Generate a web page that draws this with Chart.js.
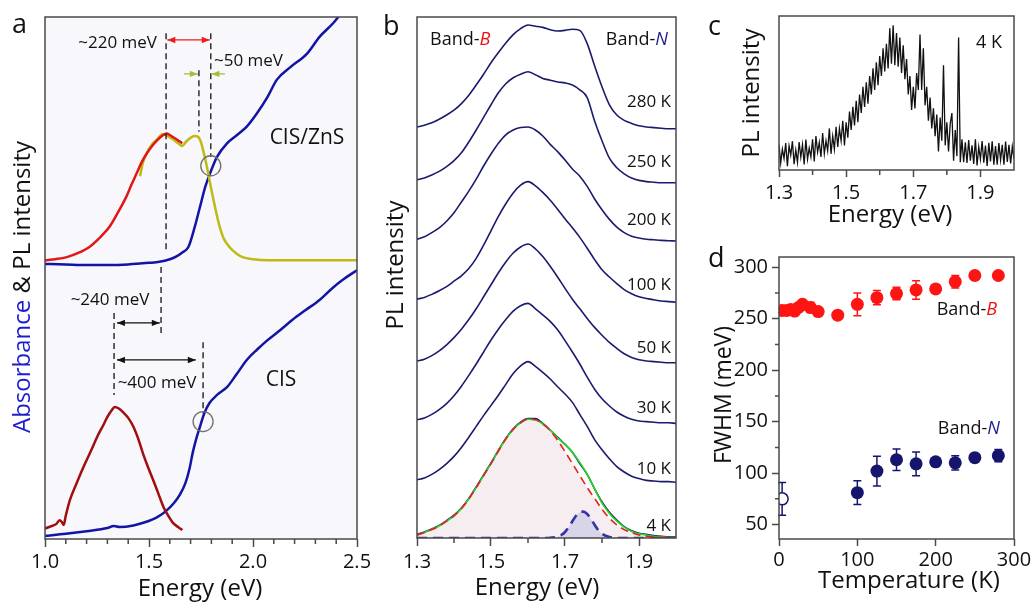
<!DOCTYPE html>
<html>
<head>
<meta charset="utf-8">
<script src="https://cdn.jsdelivr.net/npm/chart.js@4.4.1/dist/chart.umd.min.js"></script>
<style>
  html, body { margin: 0; padding: 0; background: #fff; overflow: hidden; }
  #wrap { position: relative; width: 1034px; height: 602px; }
  canvas { position: absolute; }
</style>
</head>
<body>
<div id="wrap">
  <canvas id="chartA" width="370" height="602" style="left:0;top:0"></canvas>
  <canvas id="chartB" width="320" height="602" style="left:370px;top:0"></canvas>
  <canvas id="chartC" width="344" height="230" style="left:690px;top:0"></canvas>
  <canvas id="chartD" width="344" height="372" style="left:690px;top:230px"></canvas>
</div>
<script>
// ---------- a: absorbance + PL, CIS/ZnS (upper) and CIS (lower) ----------
const eShellAbs = [1.00, 1.10, 1.20, 1.30, 1.40, 1.50, 1.55, 1.60, 1.63, 1.66, 1.69, 1.72, 1.745, 1.77, 1.793, 1.827, 1.875, 1.923, 1.97, 2.02, 2.07, 2.115, 2.18, 2.26, 2.32, 2.385, 2.42, 2.50];
const shellAbs  = [52.7, 52.6, 52.5, 52.5, 52.6, 52.9, 53.1, 53.6, 54.1, 54.9, 56.0, 59.8, 63.6, 67.4, 70.0, 73.2, 75.8, 77.4, 79.0, 81.6, 84.7, 88.0, 90.4, 93.0, 96.2, 98.8, 100.5, 104.0];
const eShellRed = [1.00, 1.05, 1.105, 1.16, 1.215, 1.26, 1.31, 1.35, 1.39, 1.415, 1.44, 1.465, 1.49, 1.515, 1.54, 1.565, 1.585, 1.60, 1.615, 1.635, 1.66];
const shellRed  = [53.4, 53.6, 54.0, 54.8, 56.0, 57.6, 59.8, 62.5, 65.5, 67.8, 70.0, 72.2, 73.9, 75.3, 76.4, 77.3, 77.7, 77.4, 77.0, 76.5, 75.8];
const eShellYel = [1.457, 1.47, 1.49, 1.515, 1.54, 1.565, 1.59, 1.615, 1.64, 1.66, 1.68, 1.705, 1.72, 1.737, 1.75, 1.76, 1.772, 1.785, 1.797, 1.81, 1.825, 1.84, 1.86, 1.89, 1.92, 1.95, 2.00, 2.07, 2.20, 2.35, 2.50];
const shellYel  = [69.5, 72.0, 74.0, 75.6, 76.6, 77.6, 77.2, 76.6, 75.8, 75.3, 76.2, 77.0, 77.2, 77.0, 76.0, 74.5, 72.5, 70.0, 67.5, 65.0, 62.2, 59.8, 57.5, 55.8, 54.7, 54.0, 53.6, 53.4, 53.4, 53.4, 53.4];
const eCoreAbs = [1.00, 1.10, 1.20, 1.30, 1.33, 1.36, 1.425, 1.48, 1.54, 1.58, 1.62, 1.65, 1.675, 1.695, 1.71, 1.73, 1.745, 1.765, 1.79, 1.83, 1.875, 1.92, 1.97, 2.02, 2.07, 2.13, 2.19, 2.255, 2.32, 2.38, 2.43, 2.50];
const coreAbs  = [0.6, 1.0, 1.5, 2.1, 2.5, 2.3, 2.6, 3.2, 4.2, 5.3, 6.9, 8.6, 10.7, 13.5, 16.5, 19.6, 21.5, 24.0, 26.0, 27.7, 29.1, 31.5, 34.3, 36.3, 38.1, 40.0, 42.0, 43.9, 45.8, 48.0, 49.6, 51.5];
const eCorePL = [1.00, 1.02, 1.04, 1.055, 1.07, 1.08, 1.09, 1.10, 1.12, 1.15, 1.185, 1.22, 1.25, 1.28, 1.30, 1.32, 1.335, 1.355, 1.375, 1.40, 1.425, 1.45, 1.47, 1.495, 1.52, 1.545, 1.57, 1.595, 1.615, 1.64, 1.66];
const corePL  = [2.0, 2.3, 2.6, 2.9, 3.6, 3.3, 2.7, 4.5, 7.5, 10.5, 13.8, 16.8, 19.5, 21.8, 23.4, 24.6, 25.3, 25.0, 24.3, 23.2, 21.5, 19.0, 16.5, 13.8, 11.3, 8.7, 6.1, 4.3, 3.1, 2.3, 1.7];
const ticksA = [1.0, 1.5, 2.0, 2.5];
const minorA = [1.1, 1.2, 1.3, 1.4, 1.6, 1.7, 1.8, 1.9, 2.1, 2.2, 2.3, 2.4];

// ---------- b: temperature series (stacked) + 4 K fit ----------
const energyB = [1.30, 1.32, 1.34, 1.36, 1.38, 1.40, 1.42, 1.44, 1.46, 1.48, 1.50, 1.52, 1.54, 1.56, 1.58, 1.60, 1.62, 1.64, 1.66, 1.68, 1.70, 1.72, 1.74, 1.76, 1.78, 1.80, 1.82, 1.84, 1.86, 1.88, 1.90, 1.92, 1.94, 1.96, 1.98, 2.00];
const tempsB = ['280 K', '250 K', '200 K', '100 K', '50 K', '30 K', '10 K', '4 K'];
const offsetB = [6.82, 5.92, 4.95, 3.93, 2.92, 1.91, 0.93, 0];
const pl280 = [0.03, 0.06, 0.10, 0.16, 0.23, 0.31, 0.42, 0.56, 0.73, 0.91, 1.10, 1.27, 1.43, 1.57, 1.67, 1.73, 1.71, 1.69, 1.65, 1.63, 1.64, 1.66, 1.64, 1.42, 1.05, 0.70, 0.40, 0.23, 0.14, 0.09, 0.05, 0.03, 0.02, 0.01, 0, 0];
const pl250 = [0.05, 0.08, 0.13, 0.19, 0.27, 0.37, 0.50, 0.68, 0.88, 1.09, 1.30, 1.50, 1.65, 1.75, 1.81, 1.85, 1.80, 1.74, 1.71, 1.68, 1.665, 1.63, 1.55, 1.42, 1.03, 0.70, 0.41, 0.25, 0.15, 0.08, 0.04, 0.02, 0.01, 0, 0, 0];
const pl200 = [0.03, 0.07, 0.14, 0.22, 0.33, 0.47, 0.65, 0.83, 1.03, 1.25, 1.45, 1.63, 1.77, 1.85, 1.89, 1.90, 1.85, 1.75, 1.61, 1.49, 1.35, 1.20, 1.08, 0.91, 0.70, 0.52, 0.36, 0.23, 0.14, 0.08, 0.05, 0.03, 0.02, 0.01, 0.005, 0];
const pl100 = [0.05, 0.08, 0.13, 0.19, 0.26, 0.35, 0.44, 0.56, 0.73, 0.95, 1.19, 1.43, 1.64, 1.82, 1.95, 2.01, 1.94, 1.83, 1.70, 1.55, 1.39, 1.24, 1.08, 0.90, 0.71, 0.54, 0.42, 0.31, 0.21, 0.14, 0.09, 0.06, 0.04, 0.02, 0.01, 0];
const pl50  = [0.03, 0.06, 0.12, 0.20, 0.30, 0.42, 0.56, 0.72, 0.90, 1.10, 1.30, 1.50, 1.68, 1.83, 1.93, 1.98, 1.90, 1.77, 1.61, 1.43, 1.24, 1.06, 0.90, 0.74, 0.59, 0.46, 0.34, 0.24, 0.15, 0.09, 0.05, 0.03, 0.02, 0.01, 0, 0];
const pl30  = [0.06, 0.09, 0.15, 0.23, 0.33, 0.46, 0.62, 0.80, 0.99, 1.19, 1.39, 1.57, 1.73, 1.87, 1.96, 2.00, 1.91, 1.81, 1.70, 1.56, 1.38, 1.19, 0.99, 0.77, 0.57, 0.41, 0.29, 0.19, 0.12, 0.07, 0.04, 0.03, 0.02, 0.01, 0.01, 0];
const pl10  = [0.04, 0.07, 0.13, 0.21, 0.31, 0.43, 0.58, 0.75, 0.93, 1.11, 1.28, 1.45, 1.63, 1.81, 1.94, 2.01, 1.93, 1.83, 1.72, 1.59, 1.47, 1.33, 1.13, 0.93, 0.71, 0.54, 0.39, 0.26, 0.17, 0.10, 0.06, 0.03, 0.02, 0.01, 0.01, 0];
const pl4   = [0.06, 0.10, 0.15, 0.21, 0.29, 0.38, 0.50, 0.66, 0.85, 1.05, 1.25, 1.46, 1.66, 1.82, 1.93, 1.99, 1.99, 1.91, 1.80, 1.68, 1.56, 1.43, 1.24, 1.06, 0.82, 0.60, 0.43, 0.30, 0.19, 0.12, 0.08, 0.06, 0.04, 0.03, 0.02, 0.02];
const fitBandB = [0.05, 0.09, 0.14, 0.20, 0.28, 0.37, 0.49, 0.65, 0.84, 1.04, 1.24, 1.45, 1.65, 1.81, 1.92, 1.98, 1.97, 1.90, 1.79, 1.63, 1.44, 1.24, 1.04, 0.84, 0.66, 0.48, 0.33, 0.22, 0.14, 0.09, 0.05, 0.03, 0.02, 0.01, 0.01, 0];
const fitSum   = [0.05, 0.09, 0.14, 0.20, 0.28, 0.37, 0.49, 0.65, 0.84, 1.04, 1.24, 1.45, 1.65, 1.81, 1.92, 1.98, 1.97, 1.90, 1.80, 1.67, 1.56, 1.43, 1.26, 1.06, 0.82, 0.58, 0.41, 0.28, 0.18, 0.11, 0.07, 0.05, 0.03, 0.02, 0.01, 0.01];
const eBandN   = [1.30, 1.40, 1.50, 1.60, 1.64, 1.66, 1.68, 1.69, 1.70, 1.71, 1.72, 1.73, 1.74, 1.75, 1.76, 1.77, 1.78, 1.79, 1.80, 1.82, 1.84, 1.90, 2.00];
const fitBandN = [0, 0, 0, 0, 0, 0.005, 0.02, 0.05, 0.10, 0.18, 0.28, 0.37, 0.43, 0.44, 0.40, 0.32, 0.22, 0.13, 0.07, 0.015, 0, 0, 0];
const ticksB = [1.3, 1.5, 1.7, 1.9];
const minorB = [1.4, 1.6, 1.8];

// ---------- c: 4 K spectrum ----------
const energyC = [1.300, 1.305, 1.310, 1.315, 1.320, 1.325, 1.330, 1.335, 1.340, 1.345,
  1.350, 1.355, 1.360, 1.365, 1.370, 1.375, 1.380, 1.385, 1.390, 1.395,
  1.400, 1.405, 1.410, 1.415, 1.420, 1.425, 1.430, 1.435, 1.440, 1.445,
  1.450, 1.455, 1.460, 1.465, 1.470, 1.475, 1.480, 1.485, 1.490, 1.495,
  1.500, 1.505, 1.510, 1.515, 1.520, 1.525, 1.530, 1.535, 1.540, 1.545,
  1.550, 1.555, 1.560, 1.565, 1.570, 1.575, 1.580, 1.585, 1.590, 1.595,
  1.600, 1.605, 1.610, 1.615, 1.620, 1.625, 1.630, 1.635, 1.640, 1.645,
  1.650, 1.655, 1.660, 1.665, 1.670, 1.675, 1.680, 1.685, 1.690, 1.695,
  1.700, 1.705, 1.710, 1.715, 1.720, 1.725, 1.730, 1.735, 1.740, 1.745,
  1.750, 1.755, 1.760, 1.765, 1.770, 1.775, 1.780, 1.785, 1.790, 1.795,
  1.800, 1.805, 1.810, 1.815, 1.820, 1.825, 1.830, 1.835, 1.840, 1.845,
  1.850, 1.855, 1.860, 1.865, 1.870, 1.875, 1.880, 1.885, 1.890, 1.895,
  1.900, 1.905, 1.910, 1.915, 1.920, 1.925, 1.930, 1.935, 1.940, 1.945,
  1.950, 1.955, 1.960, 1.965, 1.970, 1.975, 1.980, 1.985, 1.990, 1.995,
  2.000];
const plC = [16.5, 4.5, 13.5, 7.5, 17.5, 2.5, 15.6, 9.6, 18.7, 3.8,
  13, 5, 18.2, 8.3, 16.5, 3.6, 19.8, 7, 14.2, 8.5,
  20, 5.5, 22, 11.5, 18, 8.5, 24, 10.5, 19, 12.5,
  27, 10.5, 22, 13.5, 28, 15, 27, 19, 32, 16,
  31, 21, 38, 26, 41, 29, 45, 31, 49, 37,
  54, 41, 57, 43, 61, 49, 66, 52, 70, 55,
  74, 61, 79, 64, 82, 66, 92, 69, 94, 68,
  89, 67, 86, 63, 81, 59, 72, 49, 61, 39,
  54, 40, 63, 52, 88, 52, 79, 42, 54, 32,
  47, 27, 40, 22, 36, 12, 34, 19, 68, 16,
  31, 12, 30, 37, 6, 26, 9, 86, 5, 20,
  5, 18, 4.5, 19.5, 6, 16, 4, 20, 3, 15,
  7, 18.8, 4.8, 15.8, 2.7, 17.7, 5.6, 18.6, 3.5, 15.5,
  3.5, 17.5, 6.5, 16.4, 3.4, 18.4, 5.3, 16.3, 4.2, 15.2,
  7.2];
const ticksC = [1.3, 1.5, 1.7, 1.9];
const minorC = [1.4, 1.6, 1.8];

// ---------- d: FWHM vs temperature ----------
const tempB = [4, 10, 15, 20, 25, 30, 40, 50, 75, 100, 125, 150, 175, 200, 225, 250, 280];
const fwhmB = [258, 258, 259, 257.5, 261, 264, 261, 257, 253.5, 264, 270.5, 274.5, 278, 279, 286, 292, 292];
const errB  = [2, 2, 2, 3, 3, 3, 5, 3, 2, 11, 7, 6, 9, 3, 6, 4, 3];
const tempN = [100, 125, 150, 175, 200, 225, 250, 280];
const fwhmN = [81, 102, 113, 109, 111, 110, 115, 117];
const errN  = [11.5, 14.5, 10.5, 11.5, 3, 7, 3, 6];
const tempN4 = [4];
const fwhmN4 = [75];
const errN4  = [16];
const ticksDx = [0, 100, 200, 300];
const ticksDy = [50, 100, 150, 200, 250, 300];
const minorDy = [75, 125, 175, 225, 275];

// ---------- shared styling ----------
const FONT = "'Open Sans', 'DejaVu Sans', sans-serif";
const AXIS = '#4a4a4a';
const INK = '#111';
Chart.defaults.font.family = FONT;
Chart.defaults.color = INK;

const pts = (xs, ys, dy = 0) => xs.map((x, i) => ({ x, y: ys[i] + dy }));

function curve(xs, ys, color, width, extra) {
  return Object.assign({
    data: pts(xs, ys),
    borderColor: color,
    borderWidth: width,
    pointRadius: 0,
    fill: false,
    cubicInterpolationMode: 'monotone'
  }, extra || {});
}

function xScale(min, max, ticks, height, tickLen, pad, fmt) {
  return {
    type: 'linear', min, max,
    afterBuildTicks: s => { s.ticks = ticks.map(v => ({ value: v })); },
    afterFit: s => { s.height = height; s.paddingLeft = 0; s.paddingRight = 0; },
    ticks: { font: { size: 20 }, color: INK, padding: pad, maxRotation: 0, autoSkip: false, callback: fmt },
    grid: { drawOnChartArea: false, drawTicks: true, tickLength: tickLen, tickColor: AXIS, tickWidth: 1.5 },
    border: { display: false }
  };
}

// text made of coloured / italic runs, optionally rotated
function drawRuns(ctx, t) {
  ctx.save();
  ctx.translate(t.x, t.y);
  if (t.rot) ctx.rotate(-Math.PI / 2);
  ctx.textBaseline = t.base || 'middle';
  ctx.textAlign = 'left';
  const fontOf = r => (r[2] ? 'italic ' : '') + t.size + 'px ' + FONT;
  let total = 0;
  t.runs.forEach(r => { ctx.font = fontOf(r); total += ctx.measureText(r[0]).width; });
  let x0 = t.align === 'right' ? -total : t.align === 'left' ? 0 : -total / 2;
  t.runs.forEach(r => {
    ctx.font = fontOf(r);
    ctx.fillStyle = r[1] || INK;
    ctx.fillText(r[0], x0, 0);
    x0 += ctx.measureText(r[0]).width;
  });
  ctx.restore();
}

// box around the plot, minor ticks and text labels
function framePlugin(cfg) {
  return {
    id: 'frame',
    beforeDraw(chart) {
      if (!cfg.bg) return;
      const { ctx, chartArea: a } = chart;
      ctx.save();
      ctx.fillStyle = cfg.bg;
      ctx.fillRect(a.left, a.top, a.right - a.left, a.bottom - a.top);
      ctx.restore();
    },
    afterDraw(chart) {
      const { ctx, chartArea: a, scales } = chart;
      ctx.save();
      ctx.strokeStyle = AXIS;
      ctx.lineWidth = 1.5;
      ctx.strokeRect(a.left, a.top, a.right - a.left, a.bottom - a.top);
      ctx.beginPath();
      (cfg.minorX || []).forEach(v => {
        const p = scales.x.getPixelForValue(v);
        ctx.moveTo(p, a.bottom); ctx.lineTo(p, a.bottom + 5);
      });
      (cfg.minorY || []).forEach(v => {
        const p = scales.y.getPixelForValue(v);
        ctx.moveTo(a.left - 4, p); ctx.lineTo(a.left, p);
      });
      ctx.stroke();
      (cfg.texts || []).forEach(t => drawRuns(ctx, t));
      if (cfg.extra) cfg.extra(chart, ctx);
      ctx.restore();
    }
  };
}

function arrow(ctx, x1, x2, y, color, startHead, endHead) {
  ctx.strokeStyle = color;
  ctx.fillStyle = color;
  ctx.lineWidth = 1.3;
  ctx.beginPath(); ctx.moveTo(x1, y); ctx.lineTo(x2, y); ctx.stroke();
  const head = (tip, dir) => {
    ctx.beginPath();
    ctx.moveTo(tip, y);
    ctx.lineTo(tip - dir * 8, y - 3.2);
    ctx.lineTo(tip - dir * 8, y + 3.2);
    ctx.closePath(); ctx.fill();
  };
  const dir = x2 > x1 ? 1 : -1;
  if (endHead) head(x2, dir);
  if (startHead) head(x1, -dir);
}

const baseOptions = {
  responsive: false,
  animation: false,
  events: [],
  plugins: { legend: { display: false }, tooltip: { enabled: false } }
};

// ---------- chart a ----------
const guidesA = {
  id: 'guidesA',
  afterDatasetsDraw(chart) {
    const { ctx, scales: { x, y } } = chart;
    const px = e => x.getPixelForValue(e), py = v => y.getPixelForValue(v);
    ctx.save();
    ctx.setLineDash([6, 4]);
    ctx.strokeStyle = '#222';
    ctx.lineWidth = 1.4;
    [[1.582, 96.9, 55.4], [1.797, 96.9, 73.2], [1.740, 89.8, 78.0],
     [1.558, 52.1, 38.7], [1.332, 43.3, 27.6], [1.760, 37.7, 24.1]].forEach(([e, v1, v2]) => {
      ctx.beginPath(); ctx.moveTo(px(e), py(v1)); ctx.lineTo(px(e), py(v2)); ctx.stroke();
    });
    ctx.setLineDash([]);
    arrow(ctx, px(1.588), px(1.792), py(95.6), '#ee1c1c', true, true);
    arrow(ctx, px(1.668), px(1.735), py(89.1), '#9fc23a', false, true);
    arrow(ctx, px(1.865), px(1.800), py(89.1), '#9fc23a', false, true);
    arrow(ctx, px(1.346), px(1.552), py(41.4), INK, true, true);
    arrow(ctx, px(1.346), px(1.725), py(34.3), INK, true, true);
    ctx.strokeStyle = '#707070';
    ctx.lineWidth = 1.3;
    [[1.797, 71.5], [1.760, 22.5]].forEach(([e, v]) => {
      ctx.beginPath(); ctx.arc(px(e), py(v), 10, 0, Math.PI * 2); ctx.stroke();
    });
    ctx.restore();
  }
};

new Chart(document.getElementById('chartA'), {
  type: 'line',
  data: {
    datasets: [
      curve(eShellRed, shellRed, '#e31616', 2.5),
      curve(eShellYel, shellYel, '#bcbc14', 2.5),
      curve(eCorePL, corePL, '#a00e0e', 2.5),
      curve(eShellAbs, shellAbs, '#1414a4', 2.5),
      curve(eCoreAbs, coreAbs, '#1414a4', 2.5)
    ]
  },
  options: Object.assign({}, baseOptions, {
    layout: { padding: { left: 45, right: 13, top: 17, bottom: 0 } },
    scales: {
      x: xScale(1.0, 2.5, ticksA, 63, 8, 3, v => v.toFixed(1)),
      y: { type: 'linear', display: false, min: 0, max: 100 }
    }
  }),
  plugins: [guidesA, framePlugin({
    bg: '#f7f7fc',
    minorX: minorA,
    texts: [
      { x: 12, y: 33, size: 27, base: 'alphabetic', align: 'left', runs: [['a']] },
      { x: 23, y: 287, size: 24, rot: true, runs: [['Absorbance', '#1c1cd0'], [' & PL intensity']] },
      { x: 200, y: 589, size: 24, runs: [['Energy (eV)']] },
      { x: 157, y: 43, size: 17, align: 'right', runs: [['~220 meV']] },
      { x: 214, y: 61, size: 17, align: 'left', runs: [['~50 meV']] },
      { x: 307, y: 138, size: 21, runs: [['CIS/ZnS']] },
      { x: 110, y: 300, size: 17, runs: [['~240 meV']] },
      { x: 157, y: 383, size: 17, runs: [['~400 meV']] },
      { x: 281, y: 380, size: 21, runs: [['CIS']] }
    ]
  })]
});

// ---------- chart b ----------
const spectraB = [pl280, pl250, pl200, pl100, pl50, pl30, pl10, pl4];
const NAVY = '#1b1b6e';
const datasetsB = spectraB.map((s, i) => ({
  data: pts(energyB, s, offsetB[i]),
  borderColor: NAVY, borderWidth: 1.6, pointRadius: 0, fill: false,
  cubicInterpolationMode: 'monotone', order: 3
}));
datasetsB.push(
  curve(energyB, fitSum, '#22dd22', 1.6, { order: 2 }),
  curve(energyB, fitBandB, '#e52222', 1.6, { order: 1, borderDash: [8, 5] }),
  curve(eBandN, fitBandN, '#3434a8', 2.6, { order: 1, borderDash: [10, 6] }),
  curve(energyB, fitBandB, 'rgba(0,0,0,0)', 0, { order: 6, fill: 'origin', backgroundColor: '#f5edf0' }),
  curve(eBandN, fitBandN, 'rgba(0,0,0,0)', 0, { order: 5, fill: 'origin', backgroundColor: '#d8d4ea' })
);
const liftB = [27, 21, 21, 17, 15, 15, 13, 12];

new Chart(document.getElementById('chartB'), {
  type: 'line',
  data: { datasets: datasetsB },
  options: Object.assign({}, baseOptions, {
    layout: { padding: { left: 47, right: 14, top: 17, bottom: 0 } },
    scales: {
      x: xScale(1.3, 2.0, ticksB, 64, 8, 4, v => v.toFixed(1)),
      y: { type: 'linear', display: false, min: 0, max: 8.683 }
    }
  }),
  plugins: [framePlugin({
    minorX: minorB,
    texts: [
      { x: 13, y: 35, size: 27, base: 'alphabetic', align: 'left', runs: [['b']] },
      { x: 26.5, y: 265, size: 24, rot: true, runs: [['PL intensity']] },
      { x: 167, y: 588, size: 24, runs: [['Energy (eV)']] },
      { x: 60, y: 40, size: 18, align: 'left', runs: [['Band-'], ['B', '#ee1111', true]] },
      { x: 298, y: 40, size: 18, align: 'right', runs: [['Band-'], ['N', '#1a1a8a', true]] }
    ],
    extra: (chart, ctx) => {
      const { x, y } = chart.scales;
      tempsB.forEach((t, i) => {
        drawRuns(ctx, { x: x.right - 5, y: y.getPixelForValue(offsetB[i]) - liftB[i], size: 17, align: 'right', runs: [[t]] });
      });
    }
  })]
});

// ---------- chart c ----------
new Chart(document.getElementById('chartC'), {
  type: 'line',
  data: {
    datasets: [curve(energyC, plC, '#111', 1.3, { cubicInterpolationMode: 'default', tension: 0 })]
  },
  options: Object.assign({}, baseOptions, {
    layout: { padding: { left: 89, right: 20, top: 16, bottom: 0 } },
    scales: {
      x: xScale(1.3, 2.0, ticksC, 60, 7, 4.5, v => v.toFixed(1)),
      y: { type: 'linear', display: false, min: 0, max: 100 }
    }
  }),
  plugins: [framePlugin({
    minorX: minorC,
    texts: [
      { x: 18, y: 35, size: 27, base: 'alphabetic', align: 'left', runs: [['c']] },
      { x: 62, y: 93, size: 24, rot: true, runs: [['PL intensity']] },
      { x: 200, y: 215, size: 24, runs: [['Energy (eV)']] },
      { x: 312, y: 43, size: 18, align: 'right', runs: [['4 K']] }
    ]
  })]
});

// ---------- chart d ----------
const errorBars = {
  id: 'errorBars',
  beforeDatasetsDraw(chart) {
    const { ctx, scales: { x, y } } = chart;
    ctx.save();
    ctx.lineWidth = 1.5;
    chart.data.datasets.forEach(ds => {
      if (!ds.errors) return;
      ctx.strokeStyle = ds.borderColor;
      ctx.beginPath();
      ds.data.forEach((p, i) => {
        const e = ds.errors[i];
        const cx = x.getPixelForValue(p.x);
        const y1 = y.getPixelForValue(p.y - e), y2 = y.getPixelForValue(p.y + e);
        ctx.moveTo(cx, y1); ctx.lineTo(cx, y2);
        ctx.moveTo(cx - 4, y1); ctx.lineTo(cx + 4, y1);
        ctx.moveTo(cx - 4, y2); ctx.lineTo(cx + 4, y2);
      });
      ctx.stroke();
    });
    ctx.restore();
  }
};

const RED = '#ff1414';
const NAVY_D = '#15156e';
new Chart(document.getElementById('chartD'), {
  type: 'scatter',
  data: {
    datasets: [
      { data: pts(tempN4, fwhmN4), errors: errN4, borderColor: NAVY_D, backgroundColor: '#fff',
        pointRadius: 6, pointBorderWidth: 1.5 },
      { data: pts(tempN, fwhmN), errors: errN, borderColor: NAVY_D, backgroundColor: NAVY_D,
        pointRadius: 6.5, pointBorderWidth: 0 },
      { data: pts(tempB, fwhmB), errors: errB, borderColor: RED, backgroundColor: RED,
        pointRadius: 6.5, pointBorderWidth: 0 }
    ]
  },
  options: Object.assign({}, baseOptions, {
    layout: { padding: { left: 0, right: 20, top: 27, bottom: 0 } },
    scales: {
      x: xScale(0, 300, ticksDx, 63, 7, 2, v => String(v)),
      y: {
        type: 'linear', min: 36, max: 310,
        afterBuildTicks: s => { s.ticks = ticksDy.map(v => ({ value: v })); },
        afterFit: s => { s.width = 89; s.paddingTop = 0; s.paddingBottom = 0; },
        ticks: { font: { size: 20 }, color: INK, padding: 4, autoSkip: false },
        grid: { drawOnChartArea: false, drawTicks: true, tickLength: 7, tickColor: AXIS, tickWidth: 1.5 },
        border: { display: false }
      }
    }
  }),
  plugins: [errorBars, framePlugin({
    minorY: minorDy,
    texts: [
      { x: 18, y: 37, size: 27, base: 'alphabetic', align: 'left', runs: [['d']] },
      { x: 34, y: 165, size: 23, rot: true, runs: [['FWHM (meV)']] },
      { x: 219, y: 351, size: 24, runs: [['Temperature (K)']] },
      { x: 307, y: 80, size: 18, align: 'right', runs: [['Band-'], ['B', '#ee1111', true]] },
      { x: 310, y: 199, size: 18, align: 'right', runs: [['Band-'], ['N', '#1a1a8a', true]] }
    ]
  })]
});
</script>
</body>
</html>
